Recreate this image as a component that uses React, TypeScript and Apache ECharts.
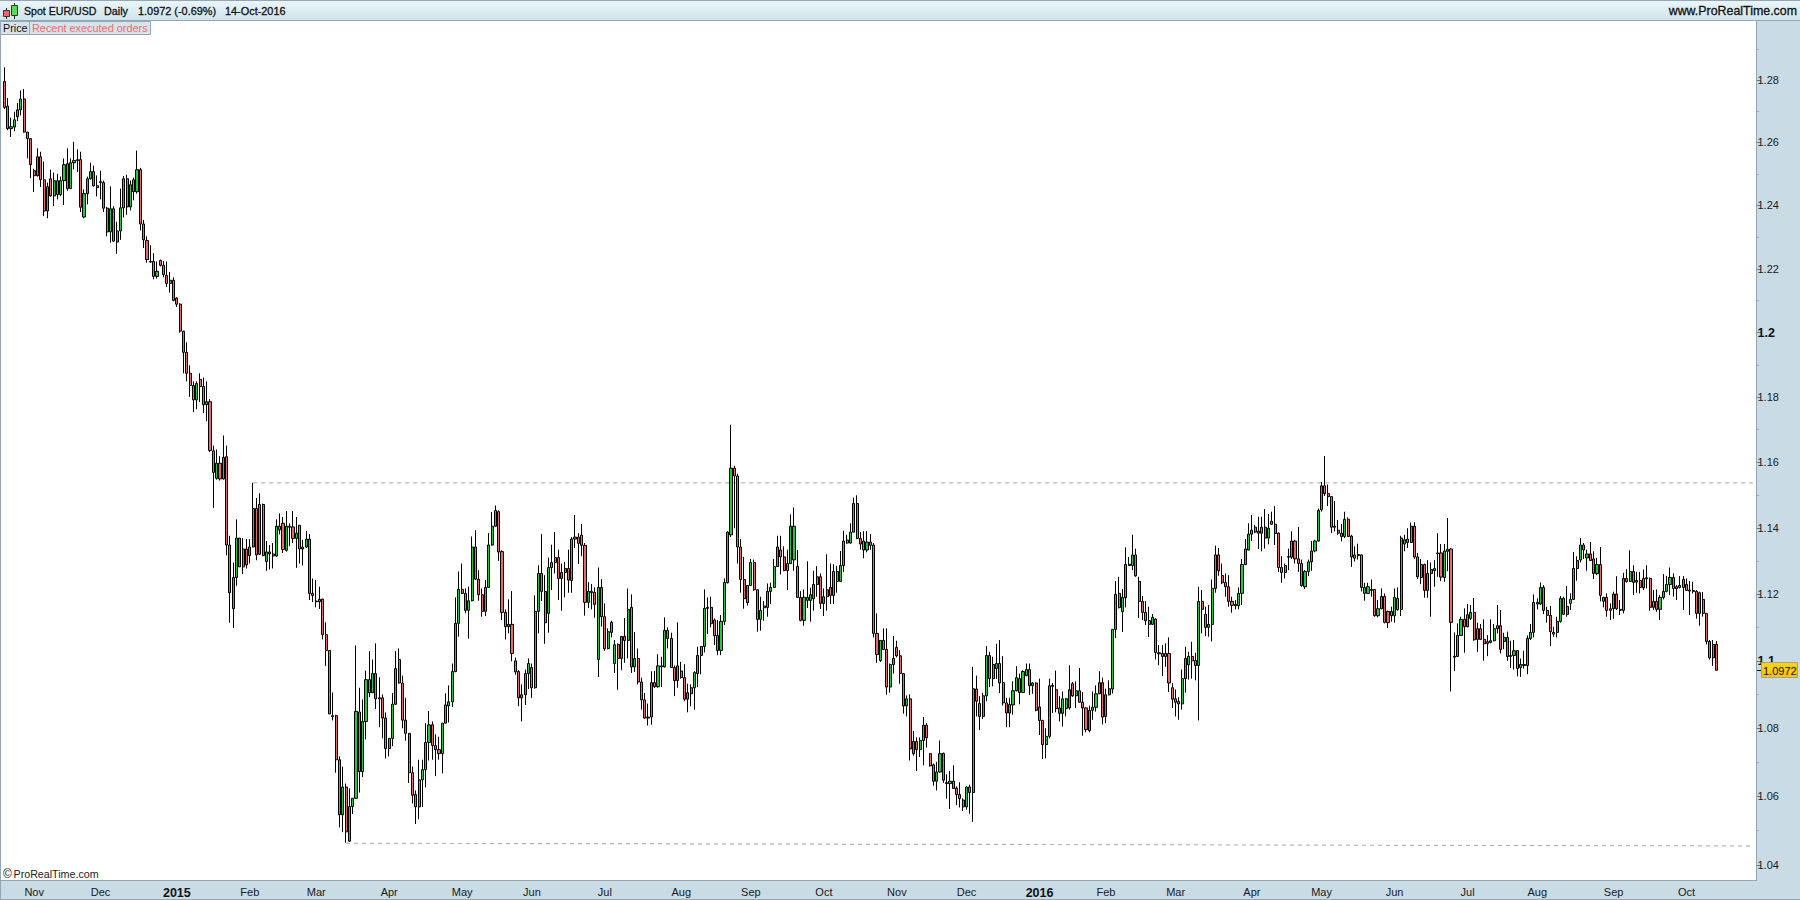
import React, { useEffect, useRef } from "react";
import * as echarts from "echarts";

// Rows are [open, close, low, high] in EUR/USD.
const rowsLate2014 = [
[1.2795,1.2712,1.2707,1.2841],[1.2716,1.2644,1.2639,1.2742],[1.2644,1.2650,1.2617,1.2679],[1.2649,1.2672,1.2636,1.2698],[1.2682,1.2704,1.2668,1.2726],[1.2704,1.2739,1.2686,1.2766],[1.2739,1.2633,1.2631,1.2771],[1.2633,1.2612,1.2549,1.2633],[1.2612,1.2529,1.2486,1.2612],[1.2510,1.2494,1.2442,1.2516],
[1.2494,1.2554,1.2491,1.2581],[1.2554,1.2481,1.2458,1.2570],[1.2481,1.2382,1.2366,1.2539],[1.2382,1.2459,1.2359,1.2472],[1.2484,1.2430,1.2427,1.2513],[1.2430,1.2478,1.2398,1.2504],[1.2478,1.2434,1.2419,1.2500],[1.2434,1.2478,1.2429,1.2491],[1.2478,1.2529,1.2401,1.2549],[1.2532,1.2453,1.2446,1.2581],
[1.2453,1.2535,1.2451,1.2549],[1.2535,1.2542,1.2514,1.2602],[1.2545,1.2542,1.2506,1.2578],[1.2545,1.2394,1.2379,1.2570],[1.2363,1.2437,1.2359,1.2450],[1.2437,1.2484,1.2403,1.2491],[1.2484,1.2507,1.2482,1.2535],[1.2507,1.2462,1.2459,1.2526],[1.2462,1.2456,1.2428,1.2495],[1.2475,1.2472,1.2419,1.2510],
[1.2472,1.2391,1.2379,1.2478],[1.2391,1.2316,1.2302,1.2395],[1.2316,1.2389,1.2282,1.2460],[1.2389,1.2287,1.2284,1.2397],[1.2284,1.2319,1.2247,1.2348],[1.2319,1.2392,1.2291,1.2453],[1.2392,1.2484,1.2362,1.2493],[1.2484,1.2395,1.2370,1.2497],[1.2395,1.2465,1.2384,1.2478],[1.2481,1.2443,1.2416,1.2488],
[1.2443,1.2513,1.2437,1.2574],[1.2513,1.2341,1.2321,1.2519],[1.2341,1.2291,1.2265,1.2354],[1.2289,1.2229,1.2219,1.2302],[1.2223,1.2221,1.2219,1.2274],[1.2223,1.2176,1.2167,1.2249],[1.2176,1.2192,1.2169,1.2223],[1.2226,1.2211,1.2207,1.2229],[1.2211,1.2182,1.2173,1.2224],[1.2179,1.2154,1.2143,1.2223],
[1.2154,1.2164,1.2125,1.2190],[1.2164,1.2101,1.2098,1.2173],[1.2108,1.2089,1.2080,1.2111],[1.2089,1.2005,1.2000,1.2092],[1.2005,1.1939,1.1874,1.2005],[1.1939,1.1874,1.1849,1.1970],[1.1874,1.1836,1.1801,1.1899],[1.1836,1.1792,1.1754,1.1849],[1.1792,1.1842,1.1763,1.1849],[1.1855,1.1833,1.1785,1.1874],
[1.1833,1.1777,1.1751,1.1861],[1.1777,1.1786,1.1726,1.1849],[1.1786,1.1636,1.1631,1.1794],
];
const rowsEarly2015 = [
[1.1635,1.1569,1.1461,1.1651],[1.1551,1.1597,1.1547,1.1639],[1.1597,1.1549,1.1544,1.1619],[1.1549,1.1615,1.1547,1.1682],[1.1617,1.1348,1.1317,1.1651],[1.1348,1.1204,1.1114,1.1376],[1.1156,1.1250,1.1098,1.1295],[1.1250,1.1369,1.1225,1.1426],[1.1369,1.1282,1.1282,1.1369],[1.1282,1.1336,1.1260,1.1369],
[1.1336,1.1288,1.1277,1.1366],[1.1316,1.1342,1.1292,1.1366],[1.1342,1.1459,1.1341,1.1537],[1.1459,1.1318,1.1302,1.1491],[1.1320,1.1471,1.1318,1.1505],[1.1471,1.1316,1.1314,1.1474],[1.1298,1.1327,1.1270,1.1360],[1.1321,1.1327,1.1274,1.1348],[1.1321,1.1315,1.1277,1.1354],[1.1315,1.1405,1.1312,1.1426],
[1.1405,1.1394,1.1380,1.1444],[1.1414,1.1334,1.1324,1.1433],[1.1332,1.1405,1.1328,1.1451],[1.1405,1.1402,1.1344,1.1414],[1.1403,1.1368,1.1354,1.1451],[1.1368,1.1384,1.1279,1.1433],[1.1408,1.1336,1.1292,1.1408],[1.1342,1.1336,1.1286,1.1364],[1.1342,1.1366,1.1339,1.1391],[1.1366,1.1202,1.1182,1.1381],
[1.1202,1.1196,1.1176,1.1247],[1.1179,1.1177,1.1160,1.1242],[1.1177,1.1184,1.1155,1.1222],[1.1185,1.1078,1.1064,1.1185],[1.1078,1.1031,1.0985,1.1115],[1.1031,1.0842,1.0842,1.1031],[1.0837,1.0834,1.0823,1.0906],[1.0837,1.0707,1.0669,1.0840],[1.0707,1.0546,1.0509,1.0717],[1.0546,1.0627,1.0495,1.0687],
[1.0627,1.0496,1.0465,1.0637],[1.0469,1.0570,1.0467,1.0623],[1.0570,1.0594,1.0548,1.0595],[1.0594,1.0850,1.0592,1.1046],[1.0848,1.0672,1.0611,1.0920],[1.0672,1.0820,1.0656,1.0885],[1.0820,1.0944,1.0767,1.0971],[1.0944,1.0905,1.0892,1.1029],[1.0905,1.0962,1.0905,1.1004],[1.0962,1.0887,1.0857,1.1052],
[1.0890,1.0887,1.0803,1.0951],[1.0890,1.0830,1.0770,1.0900],[1.0830,1.0740,1.0711,1.0847],[1.0740,1.0770,1.0717,1.0770],[1.0770,1.0871,1.0747,1.0904],[1.0871,1.0977,1.0869,1.1029],[1.1004,1.0934,1.0932,1.1037],[1.0934,1.0824,1.0800,1.0956],[1.0824,1.0785,1.0763,1.0890],[1.0785,1.0669,1.0639,1.0785],
[1.0669,1.0603,1.0579,1.0687],[1.0605,1.0569,1.0519,1.0617],[1.0569,1.0648,1.0533,1.0707],[1.0648,1.0678,1.0569,1.0707],[1.0678,1.0758,1.0626,1.0815],[1.0758,1.0810,1.0705,1.0851],[1.0810,1.0749,1.0707,1.0820],[1.0749,1.0737,1.0659,1.0782],[1.0737,1.0725,1.0707,1.0775],[1.0725,1.0815,1.0667,1.0815],
[1.0815,1.0869,1.0815,1.0903],[1.0866,1.0878,1.0817,1.0927],[1.0878,1.0968,1.0863,1.0992],[1.0968,1.1112,1.0966,1.1190],[1.1112,1.1214,1.1072,1.1268],[1.1214,1.1202,1.1200,1.1292],[1.1202,1.1151,1.1142,1.1217],[1.1151,1.1180,1.1066,1.1222],[1.1180,1.1342,1.1178,1.1374],[1.1342,1.1245,1.1242,1.1393],
[1.1245,1.1198,1.1180,1.1272],[1.1198,1.1148,1.1132,1.1217],[1.1148,1.1220,1.1134,1.1242],[1.1220,1.1348,1.1218,1.1384],[1.1348,1.1405,1.1346,1.1448],[1.1405,1.1453,1.1404,1.1468],[1.1449,1.1327,1.1300,1.1453],
];
const rowsMid2015 = [
[1.1328,1.1145,1.1122,1.1332],[1.1145,1.1102,1.1064,1.1154],[1.1102,1.1109,1.1082,1.1184],[1.1109,1.1022,1.0999,1.1209],[1.1000,1.0967,1.0959,1.1010],[1.0968,1.0890,1.0865,1.0972],[1.0890,1.0899,1.0820,1.0930],[1.0899,1.0962,1.0869,1.0974],[1.0962,1.0992,1.0916,1.1007],[1.0980,1.0920,1.0890,1.0992],
[1.0920,1.1148,1.0917,1.1196],[1.1148,1.1262,1.1082,1.1287],[1.1262,1.1208,1.1179,1.1381],[1.1208,1.1114,1.1051,1.1257],[1.1142,1.1280,1.1084,1.1310],[1.1280,1.1295,1.1212,1.1349],[1.1295,1.1310,1.1262,1.1387],[1.1310,1.1247,1.1182,1.1334],[1.1247,1.1265,1.1150,1.1292],[1.1265,1.1277,1.1190,1.1297],
[1.1277,1.1242,1.1204,1.1334],[1.1241,1.1366,1.1204,1.1372],[1.1366,1.1372,1.1339,1.1439],[1.1372,1.1353,1.1291,1.1384],[1.1378,1.1347,1.1314,1.1412],[1.1347,1.1175,1.1135,1.1354],[1.1175,1.1208,1.1158,1.1236],[1.1208,1.1204,1.1154,1.1230],[1.1205,1.1169,1.1129,1.1220],[1.1004,1.1220,1.0952,1.1280],
[1.1220,1.1132,1.1102,1.1245],[1.1132,1.1036,1.1030,1.1172],[1.1037,1.1087,1.1034,1.1097],[1.1085,1.1115,1.1070,1.1120],[1.0992,1.1048,1.0964,1.1062],[1.1049,1.1007,1.0914,1.1052],[1.1007,1.1073,1.0972,1.1074],[1.1073,1.1061,1.0994,1.1128],[1.1061,1.1154,1.1007,1.1217],[1.1160,1.0982,1.0964,1.1199],
[1.0982,1.1007,1.0967,1.1086],[1.1007,1.0937,1.0930,1.1037],[1.0937,1.0884,1.0855,1.0950],[1.0884,1.0830,1.0828,1.0904],[1.0833,1.0830,1.0808,1.0873],[1.0833,1.0935,1.0810,1.0969],[1.0935,1.0923,1.0919,1.0970],[1.0923,1.0985,1.0920,1.1020],[1.0982,1.0985,1.0922,1.1012],[1.0982,1.1091,1.0980,1.1130],
[1.1091,1.1067,1.1037,1.1100],[1.1067,1.0980,1.0979,1.1084],[1.0980,1.0941,1.0895,1.0986],[1.0941,1.0985,1.0920,1.1115],[1.0970,1.0950,1.0947,1.0997],[1.0950,1.0886,1.0880,1.0990],[1.0886,1.0905,1.0847,1.0932],[1.0902,1.0920,1.0865,1.0930],[1.0920,1.0965,1.0855,1.0969],[1.0962,1.1016,1.0922,1.1042],
[1.1016,1.1043,1.0960,1.1044],[1.1043,1.1157,1.1025,1.1214],[1.1157,1.1160,1.1080,1.1190],[1.1160,1.1111,1.1100,1.1192],[1.1122,1.1075,1.1047,1.1127],[1.1076,1.1031,1.1017,1.1122],[1.1031,1.1118,1.1017,1.1137],[1.1118,1.1235,1.1107,1.1247],[1.1234,1.1387,1.1232,1.1390],[1.1379,1.1582,1.1372,1.1715],
[1.1582,1.1558,1.1399,1.1589],[1.1558,1.1342,1.1292,1.1565],[1.1342,1.1244,1.1204,1.1366],[1.1244,1.1186,1.1156,1.1312],[1.1174,1.1226,1.1165,1.1227],[1.1226,1.1295,1.1225,1.1306],[1.1295,1.1213,1.1210,1.1304],[1.1213,1.1124,1.1087,1.1214],[1.1124,1.1151,1.1090,1.1192],[1.1159,1.1164,1.1120,1.1179],
[1.1160,1.1208,1.1132,1.1232],[1.1208,1.1220,1.1170,1.1234],[1.1220,1.1283,1.1220,1.1306],[1.1283,1.1342,1.1282,1.1376],[1.1333,1.1312,1.1259,1.1376],[1.1312,1.1271,1.1269,1.1344],[1.1271,1.1292,1.1212,1.1334],[1.1292,1.1405,1.1290,1.1441],[1.1303,1.1405,1.1270,1.1462],[1.1283,1.1190,1.1188,1.1333],
[1.1190,1.1121,1.1118,1.1209],[1.1121,1.1190,1.1105,1.1214],[1.1181,1.1190,1.1158,1.1299],[1.1181,1.1198,1.1117,1.1219],[1.1186,1.1229,1.1150,1.1270],[1.1229,1.1252,1.1192,1.1284],[1.1252,1.1172,1.1155,1.1262],[1.1172,1.1192,1.1134,1.1217],[1.1192,1.1213,1.1150,1.1320],[1.1220,1.1196,1.1170,1.1292],
[1.1196,1.1268,1.1170,1.1290],[1.1268,1.1238,1.1204,1.1285],[1.1238,1.1286,1.1236,1.1330],[1.1286,1.1360,1.1267,1.1391],[1.1363,1.1354,1.1352,1.1379],[1.1354,1.1387,1.1352,1.1414],[1.1387,1.1474,1.1386,1.1492],[1.1474,1.1368,1.1366,1.1499],[1.1368,1.1351,1.1334,1.1387],[1.1360,1.1333,1.1308,1.1390],
[1.1333,1.1357,1.1326,1.1390],[1.1357,1.1347,1.1334,1.1381],[1.1348,1.1082,1.1070,1.1354],[1.1082,1.1019,1.0994,1.1142],[1.1001,1.1061,1.0997,1.1062],[1.1061,1.1034,1.1032,1.1097],[1.1034,1.0922,1.0899,1.1097],[1.0922,1.0989,1.0905,1.0992],[1.0989,1.1007,1.0962,1.1074],[1.1040,1.1015,1.1010,1.1060],
[1.1015,1.0962,1.0932,1.1032],[1.0962,1.0866,1.0843,1.0964],[1.0866,1.0887,1.0835,1.0897],[1.0887,1.0739,1.0705,1.0900],[1.0725,1.0761,1.0719,1.0792],[1.0761,1.0737,1.0674,1.0773],[1.0737,1.0764,1.0715,1.0773],[1.0764,1.0809,1.0691,1.0833],[1.0809,1.0772,1.0743,1.0815],[1.0725,1.0689,1.0687,1.0725],
[1.0692,1.0644,1.0631,1.0696],[1.0644,1.0671,1.0617,1.0701],[1.0671,1.0725,1.0669,1.0764],[1.0726,1.0647,1.0639,1.0728],[1.0640,1.0637,1.0593,1.0664],[1.0637,1.0644,1.0563,1.0674],[1.0644,1.0623,1.0621,1.0691],[1.0624,1.0605,1.0574,1.0629],[1.0605,1.0593,1.0567,1.0641],[1.0589,1.0569,1.0557,1.0594],
[1.0569,1.0627,1.0561,1.0629],[1.0627,1.0611,1.0549,1.0634],[1.0611,1.0917,1.0525,1.0982],[1.0916,1.0880,1.0835,1.0956],[1.0873,1.0835,1.0795,1.0895],[1.0835,1.0896,1.0827,1.0905],[1.0896,1.1016,1.0880,1.1044],[1.1016,1.0947,1.0922,1.1027],[1.0947,1.0989,1.0924,1.1012],[1.0977,1.0992,1.0946,1.1051],
[1.0992,1.0934,1.0904,1.1062],
];
const rowsEarly2016 = [
[1.0935,1.0875,1.0867,1.1014],[1.0875,1.0845,1.0803,1.0890],[1.0845,1.0870,1.0803,1.0890],[1.0869,1.0911,1.0840,1.0939],[1.0911,1.0950,1.0909,1.0984],[1.0947,1.0906,1.0871,1.0962],[1.0906,1.0968,1.0904,1.0972],[1.0956,1.0974,1.0954,1.0992],[1.0974,1.0926,1.0898,1.0992],[1.0926,1.0934,1.0902,1.0937],
[1.0934,1.0853,1.0850,1.0936],[1.0863,1.0823,1.0780,1.0947],[1.0823,1.0752,1.0709,1.0825],[1.0752,1.0776,1.0711,1.0800],[1.0776,1.0926,1.0770,1.0947],[1.0927,1.0924,1.0845,1.0934],[1.0914,1.0858,1.0847,1.0971],[1.0860,1.0844,1.0820,1.0895],[1.0844,1.0887,1.0805,1.0909],[1.0858,1.0887,1.0835,1.0890],
[1.0860,1.0914,1.0855,1.0987],[1.0932,1.0896,1.0893,1.0937],[1.0896,1.0911,1.0860,1.0939],[1.0911,1.0877,1.0875,1.0979],[1.0877,1.0860,1.0778,1.0907],[1.0860,1.0796,1.0788,1.0862],[1.0793,1.0853,1.0788,1.0867],[1.0853,1.0862,1.0825,1.0909],[1.0862,1.0902,1.0849,1.0927],[1.0902,1.0935,1.0903,1.0969],
[1.0935,1.0833,1.0811,1.0950],[1.0835,1.0899,1.0815,1.0917],[1.0899,1.0917,1.0897,1.0942],[1.0916,1.1094,1.0903,1.1094],[1.1094,1.1199,1.1068,1.1239],[1.1202,1.1159,1.1157,1.1252],[1.1147,1.1190,1.1086,1.1215],[1.1189,1.1289,1.1160,1.1341],[1.1290,1.1286,1.1285,1.1312],[1.1286,1.1318,1.1272,1.1379],
[1.1318,1.1255,1.1252,1.1337],[1.1238,1.1178,1.1128,1.1252],[1.1178,1.1145,1.1122,1.1194],[1.1145,1.1120,1.1107,1.1179],[1.1120,1.1109,1.1071,1.1162],[1.1109,1.1130,1.1107,1.1140],[1.1125,1.1025,1.1004,1.1127],[1.1024,1.1021,1.0987,1.1047],[1.1022,1.1013,1.0955,1.1047],[1.1013,1.1022,1.0982,1.1052],
[1.1022,1.0934,1.0907,1.1070],[1.0920,1.0886,1.0860,1.0934],[1.0887,1.0877,1.0835,1.0915],[1.0879,1.0872,1.0825,1.0892],[1.0872,1.0947,1.0855,1.0974],[1.0947,1.1007,1.0905,1.1042],[1.0988,1.1013,1.0944,1.1027],[1.1013,1.1000,1.0947,1.1057],[1.1001,1.0986,1.0942,1.1024],[1.0986,1.1178,1.0823,1.1222],
[1.1178,1.1154,1.1082,1.1212],[1.1139,1.1100,1.1074,1.1162],[1.1100,1.1109,1.1072,1.1167],[1.1109,1.1217,1.1058,1.1244],[1.1217,1.1318,1.1204,1.1346],[1.1318,1.1270,1.1255,1.1339],[1.1256,1.1234,1.1230,1.1292],[1.1235,1.1222,1.1192,1.1262],[1.1222,1.1178,1.1162,1.1257],[1.1178,1.1166,1.1144,1.1192],
[1.1165,1.1169,1.1154,1.1182],[1.1165,1.1202,1.1154,1.1220],[1.1202,1.1289,1.1167,1.1306],[1.1289,1.1336,1.1287,1.1366],[1.1333,1.1381,1.1332,1.1414],[1.1381,1.1393,1.1360,1.1439],[1.1402,1.1387,1.1384,1.1409],[1.1390,1.1384,1.1336,1.1434],[1.1384,1.1402,1.1329,1.1434],[1.1402,1.1369,1.1337,1.1457],
[1.1369,1.1399,1.1350,1.1442],[1.1420,1.1411,1.1409,1.1449],[1.1411,1.1383,1.1348,1.1466],[1.1384,1.1280,1.1266,1.1386],[1.1280,1.1265,1.1234,1.1314],[1.1265,1.1286,1.1247,1.1292],[1.1313,1.1311,1.1272,1.1337],[1.1311,1.1360,1.1306,1.1390],[1.1360,1.1306,1.1292,1.1364],[1.1306,1.1292,1.1267,1.1403],
[1.1292,1.1226,1.1222,1.1304],[1.1222,1.1268,1.1215,1.1272],[1.1268,1.1297,1.1254,1.1304],[1.1297,1.1330,1.1270,1.1360],[1.1330,1.1360,1.1326,1.1364],[1.1360,1.1453,1.1358,1.1459],[1.1455,1.1528,1.1449,1.1540],[1.1528,1.1504,1.1497,1.1619],[1.1504,1.1495,1.1466,1.1532],[1.1495,1.1402,1.1384,1.1497],
[1.1405,1.1402,1.1389,1.1482],[1.1393,1.1384,1.1379,1.1424],[1.1374,1.1384,1.1359,1.1412],[1.1374,1.1426,1.1369,1.1449],[1.1426,1.1374,1.1372,1.1432],[1.1375,1.1312,1.1282,1.1379],[1.1308,1.1318,1.1298,1.1344],[1.1319,1.1316,1.1304,1.1352],[1.1318,1.1220,1.1208,1.1319],[1.1202,1.1220,1.1180,1.1234],
[1.1202,1.1222,1.1200,1.1234],[1.1214,1.1211,1.1192,1.1244],[1.1214,1.1135,1.1132,1.1215],[1.1135,1.1156,1.1130,1.1182],[1.1156,1.1193,1.1154,1.1217],[1.1193,1.1115,1.1112,1.1202],[1.1148,1.1114,1.1098,1.1150],[1.1135,1.1148,1.1117,1.1162],[1.1135,1.1190,1.1114,1.1217],[1.1187,1.1153,1.1150,1.1220],
];
const rowsLate2016 = [
[1.1154,1.1369,1.1134,1.1376],[1.1351,1.1364,1.1329,1.1379],[1.1366,1.1356,1.1339,1.1399],[1.1356,1.1405,1.1354,1.1416],[1.1405,1.1312,1.1306,1.1417],[1.1312,1.1252,1.1245,1.1324],[1.1250,1.1289,1.1230,1.1306],[1.1289,1.1211,1.1189,1.1292],[1.1211,1.1262,1.1189,1.1302],[1.1262,1.1274,1.1132,1.1295],
[1.1271,1.1277,1.1222,1.1302],[1.1324,1.1322,1.1252,1.1384],[1.1324,1.1251,1.1239,1.1351],[1.1250,1.1330,1.1237,1.1351],[1.1329,1.1335,1.1269,1.1430],[1.1336,1.1115,1.0909,1.1339],[1.1014,1.1011,1.0970,1.1085],[1.1013,1.1076,1.1012,1.1112],[1.1076,1.1124,1.1074,1.1132],[1.1124,1.1102,1.1024,1.1157],
[1.1102,1.1138,1.1100,1.1170],[1.1127,1.1145,1.1122,1.1167],[1.1145,1.1063,1.1060,1.1188],[1.1064,1.1096,1.1027,1.1114],[1.1096,1.1064,1.1062,1.1110],[1.1064,1.1051,1.1000,1.1124],[1.1052,1.1057,1.1014,1.1077],[1.1055,1.1060,1.1052,1.1124],[1.1060,1.1096,1.1058,1.1110],[1.1096,1.1105,1.1082,1.1167],
[1.1105,1.1034,1.1022,1.1152],[1.1058,1.1070,1.1035,1.1084],[1.1070,1.1013,1.1000,1.1087],[1.1013,1.1016,1.0979,1.1060],[1.1016,1.1030,1.0974,1.1062],[1.1031,1.0977,1.0954,1.1032],[1.0980,1.0989,1.0952,1.1007],[1.0989,1.0986,1.0977,1.1030],[1.0986,1.1067,1.0960,1.1076],[1.1067,1.1085,1.1062,1.1110],
[1.1085,1.1175,1.1070,1.1199],[1.1175,1.1170,1.1154,1.1187],[1.1170,1.1220,1.1167,1.1235],[1.1220,1.1151,1.1140,1.1227],[1.1151,1.1136,1.1114,1.1162],[1.1136,1.1087,1.1044,1.1164],[1.1085,1.1080,1.1072,1.1102],[1.1085,1.1118,1.1070,1.1132],[1.1118,1.1187,1.1114,1.1194],[1.1187,1.1139,1.1137,1.1192],
[1.1139,1.1163,1.1132,1.1224],[1.1172,1.1184,1.1152,1.1202],[1.1184,1.1277,1.1182,1.1327],[1.1277,1.1301,1.1240,1.1314],[1.1303,1.1348,1.1295,1.1369],[1.1348,1.1333,1.1306,1.1354],[1.1309,1.1321,1.1270,1.1334],[1.1321,1.1301,1.1300,1.1357],[1.1306,1.1262,1.1245,1.1329],[1.1262,1.1289,1.1257,1.1309],
[1.1289,1.1196,1.1178,1.1342],[1.1178,1.1190,1.1160,1.1192],[1.1190,1.1151,1.1132,1.1202],[1.1156,1.1151,1.1122,1.1172],[1.1156,1.1200,1.1126,1.1207],[1.1200,1.1156,1.1152,1.1254],[1.1154,1.1151,1.1137,1.1182],[1.1151,1.1247,1.1142,1.1264],[1.1247,1.1238,1.1234,1.1275],[1.1238,1.1268,1.1236,1.1332],
[1.1268,1.1235,1.1197,1.1287],[1.1241,1.1236,1.1204,1.1267],[1.1241,1.1220,1.1202,1.1267],[1.1219,1.1247,1.1212,1.1274],[1.1246,1.1249,1.1217,1.1287],[1.1247,1.1160,1.1150,1.1250],[1.1160,1.1178,1.1152,1.1212],[1.1178,1.1154,1.1147,1.1214],[1.1154,1.1190,1.1122,1.1197],[1.1190,1.1208,1.1184,1.1260],
[1.1208,1.1229,1.1205,1.1255],[1.1229,1.1250,1.1197,1.1280],[1.1250,1.1217,1.1192,1.1262],[1.1222,1.1216,1.1182,1.1227],[1.1220,1.1226,1.1217,1.1254],[1.1220,1.1244,1.1152,1.1254],[1.1229,1.1211,1.1210,1.1247],[1.1212,1.1209,1.1137,1.1239],[1.1211,1.1208,1.1202,1.1237],[1.1208,1.1142,1.1126,1.1212],
[1.1142,1.1204,1.1105,1.1207],[1.1184,1.1142,1.1132,1.1206],[1.1142,1.1058,1.1049,1.1142],[1.1058,1.1009,1.1004,1.1062],[1.1009,1.1049,1.0985,1.1062],[1.1049,1.0972,1.0972,1.1059],
];

const monthIndexes = [9, 29, 52, 74, 94, 116, 138, 159, 181, 204, 225, 247, 269, 290, 312, 332, 353, 376, 397, 419, 441, 462, 485, 507];
const monthLabels = ["Nov", "Dec", "2015", "Feb", "Mar", "Apr", "May", "Jun", "Jul", "Aug", "Sep", "Oct", "Nov", "Dec", "2016", "Feb", "Mar", "Apr", "May", "Jun", "Jul", "Aug", "Sep", "Oct"];
const priceTicks = [1.04, 1.06, 1.08, 1.1, 1.12, 1.14, 1.16, 1.18, 1.2, 1.22, 1.24, 1.26, 1.28];
const minorPriceTicks = [1.05, 1.07, 1.09, 1.11, 1.13, 1.15, 1.17, 1.19, 1.21, 1.23, 1.25, 1.27, 1.29];
const boldPrices = [1.1, 1.2];
const resistanceLevel = [1.1537, 1.1537];
const supportLevel = [1.0463, 1.0455];
const lastPrice = 1.0972;
const priceMin = 1.03563;
const priceMax = 1.29903;
const barSlots = 528;
const resistanceStart = 75;
const supportStart = 103;

const FONT = '"Liberation Sans", Arial, sans-serif';
const PANEL = "#c9dbe5";
const EDGE = "#94a6b3";

const scaleY = (p: number) => Math.sqrt(p);

function levelLine(name: string, startIdx: number, level: number[]) {
  const data: (number | null)[] = new Array(barSlots).fill(null);
  data[startIdx] = scaleY(level[0]);
  data[barSlots - 1] = scaleY(level[1]);
  return {
    name, type: "line", data, connectNulls: true, showSymbol: false, symbol: "none", silent: true, z: 1,
    lineStyle: { color: "#a6a6a6", width: 1, type: [4, 4] },
  };
}

function buildGraphic(tagY: number) {
  const txt = (id: string, x: number, y: number, text: string, size: number, fill: string, extra: any = {}) => ({
    id, type: "text", x, y, z: 30, silent: true,
    style: { text, fontFamily: FONT, fontSize: size, fill, textVerticalAlign: "middle", verticalAlign: "middle", ...extra },
  });
  const rect = (id: string, x: number, y: number, width: number, height: number, fill: any, z = -5, stroke?: string) => ({
    id, type: "rect", z, silent: true, shape: { x, y, width, height }, style: { fill, stroke: stroke ?? null, lineWidth: stroke ? 1 : 0 },
  });
  const bold = { stroke: "#111111", lineWidth: 0.3 };
  return [
    rect("top", 0, 0, 1800, 20, new echarts.graphic.LinearGradient(0, 0, 0, 1, [{ offset: 0, color: "#ecf6fa" }, { offset: 1, color: "#cfe4ec" }])),
    rect("topB", 0, 20, 1800, 1, EDGE),
    rect("topA", 0, 0, 1800, 1, EDGE),
    rect("right", 1756, 21, 44, 879, PANEL),
    rect("bottom", 0, 880, 1800, 20, PANEL),
    rect("rEdge", 1756, 21, 1, 859, EDGE, 5),
    rect("bEdge", 0, 880, 1757, 1, EDGE, 5),
    rect("lEdge", 0, 21, 1, 879, EDGE, 5),
    rect("botEdge", 0, 899, 1800, 1, EDGE, 5),
    rect("tabPrice", 0.5, 21.5, 29, 13, "#d8e4ea", 20, EDGE),
    rect("tabOrders", 29.5, 21.5, 121, 13, "#d8e4ea", 20, EDGE),
    { id: "icoW1", type: "line", z: 21, silent: true, shape: { x1: 6.5, y1: 8, x2: 6.5, y2: 19 }, style: { stroke: "#222", lineWidth: 1 } },
    { id: "icoW2", type: "line", z: 21, silent: true, shape: { x1: 14.5, y1: 3, x2: 14.5, y2: 19 }, style: { stroke: "#222", lineWidth: 1 } },
    rect("icoR", 3.5, 10.5, 6, 6, "#e86a6a", 22, "#333333"),
    rect("icoG", 11.5, 5.5, 6, 10, "#55dd55", 22, "#333333"),
    txt("t1", 24, 11, "Spot EUR/USD", 10.6, "#111111", bold),
    txt("t2", 104, 11, "Daily", 10.8, "#111111", bold),
    txt("t3", 138, 11, "1.0972 (-0.69%)", 10.9, "#111111", bold),
    txt("t4", 225, 11, "14-Oct-2016", 10.9, "#111111", bold),
    txt("t5", 1797, 11, "www.ProRealTime.com", 12.4, "#111111", { align: "right", textAlign: "right", ...bold }),
    txt("tabP", 3, 27.5, "Price", 10.8, "#111111"),
    txt("tabO", 32, 27.5, "Recent executed orders", 10.9, "#ef6b70"),
    txt("cpy", 3, 874, "©", 12, "#111111"),
    txt("cpy2", 13.5, 874, "ProRealTime.com", 10.7, "#222222"),
    { id: "lastTick", type: "line", z: 24, silent: true, shape: { x1: 1757, y1: Math.round(tagY) + 0.5, x2: 1762, y2: Math.round(tagY) + 0.5 }, style: { stroke: "#111", lineWidth: 1 } },
    rect("tag", 1761.5, Math.round(tagY) - 7.5, 36, 15, new echarts.graphic.LinearGradient(0, 0, 0, 1, [{ offset: 0, color: "#ffd21f" }, { offset: 1, color: "#f7c400" }]), 25, "#a8a184"),
    txt("tagT", 1763, tagY + 0.5, lastPrice.toFixed(4), 11, "#111111"),
  ];
}

export default function App() {
  const ref = useRef<HTMLDivElement>(null);
  useEffect(() => {
    document.body.style.margin = "0";
    const chart = echarts.init(ref.current!, undefined, { renderer: "svg" });
    const rows = [...rowsLate2014, ...rowsEarly2015, ...rowsMid2015, ...rowsEarly2016, ...rowsLate2016];
    const categories = Array.from({ length: barSlots }, (_, i) => String(i));
    const isMonth = (i: number) => monthIndexes.includes(i);
    const valueAxisBase = {
      type: "value", position: "right", offset: 1.4,
      min: scaleY(priceMin), max: scaleY(priceMax), splitLine: { show: false },
      axisLine: { show: false },
    };
    chart.setOption({
      animation: false,
      backgroundColor: "#ffffff",
      grid: { left: 2.66, right: 45.4, top: 21, bottom: 20, containLabel: false },
      xAxis: {
        type: "category", data: categories, boundaryGap: true,
        axisLine: { show: false },
        axisTick: { alignWithLabel: true, interval: (i: number) => isMonth(i), length: 4, lineStyle: { color: "#8b9aa5" } },
        axisLabel: {
          interval: (i: number) => isMonth(i), margin: 6.5, fontFamily: FONT, fontSize: 11, color: "#1a1a1a",
          hideOverlap: false,
          formatter: (_: string, i: number) => {
            const at = monthIndexes.indexOf(i);
            if (at < 0) return "";
            const label = monthLabels[at];
            return /^\d+$/.test(label) ? `{y|${label}}` : label;
          },
          rich: { y: { fontFamily: FONT, fontSize: 12.5, fontWeight: "bold", color: "#111111" } },
        },
      },
      yAxis: [
        {
          ...valueAxisBase,
          axisTick: { show: true, length: 5, customValues: priceTicks.map(scaleY), lineStyle: { color: "#667680" } },
          axisLabel: {
            show: true, inside: false, margin: 1.5, fontFamily: FONT, fontSize: 11, color: "#1a1a1a", align: "left",
            customValues: priceTicks.map(scaleY),
            formatter: (v: number) => {
              const p = Math.round(v * v * 100) / 100;
              return boldPrices.includes(p) ? `{b|${p}}` : String(p);
            },
            rich: { b: { fontFamily: FONT, fontSize: 12.5, fontWeight: "bold", color: "#111111" } },
          },
        },
        {
          ...valueAxisBase,
          axisTick: { show: true, length: 3, customValues: minorPriceTicks.map(scaleY), lineStyle: { color: "#9aa9b3" } },
          axisLabel: { show: false },
        },
      ],
      series: [
        levelLine("resistance", resistanceStart, resistanceLevel),
        levelLine("support", supportStart, supportLevel),
        {
          name: "Spot EUR/USD", type: "candlestick", yAxisIndex: 0, barWidth: 2.6, z: 3,
          data: rows.map((r) => r.map(scaleY)),
          itemStyle: { color: "#22cc33", color0: "#e8696b", borderColor: "#000000", borderColor0: "#000000", borderColorDoji: "#000000", borderWidth: 1 },
        },
      ],
      graphic: buildGraphic(0),
    });
    const tagY = chart.convertToPixel({ yAxisIndex: 0 }, scaleY(lastPrice)) as number;
    chart.setOption({ graphic: buildGraphic(tagY) });
    return () => chart.dispose();
  }, []);
  return <div ref={ref} style={{ position: "absolute", left: 0, top: 0, width: 1800, height: 900 }} />;
}
